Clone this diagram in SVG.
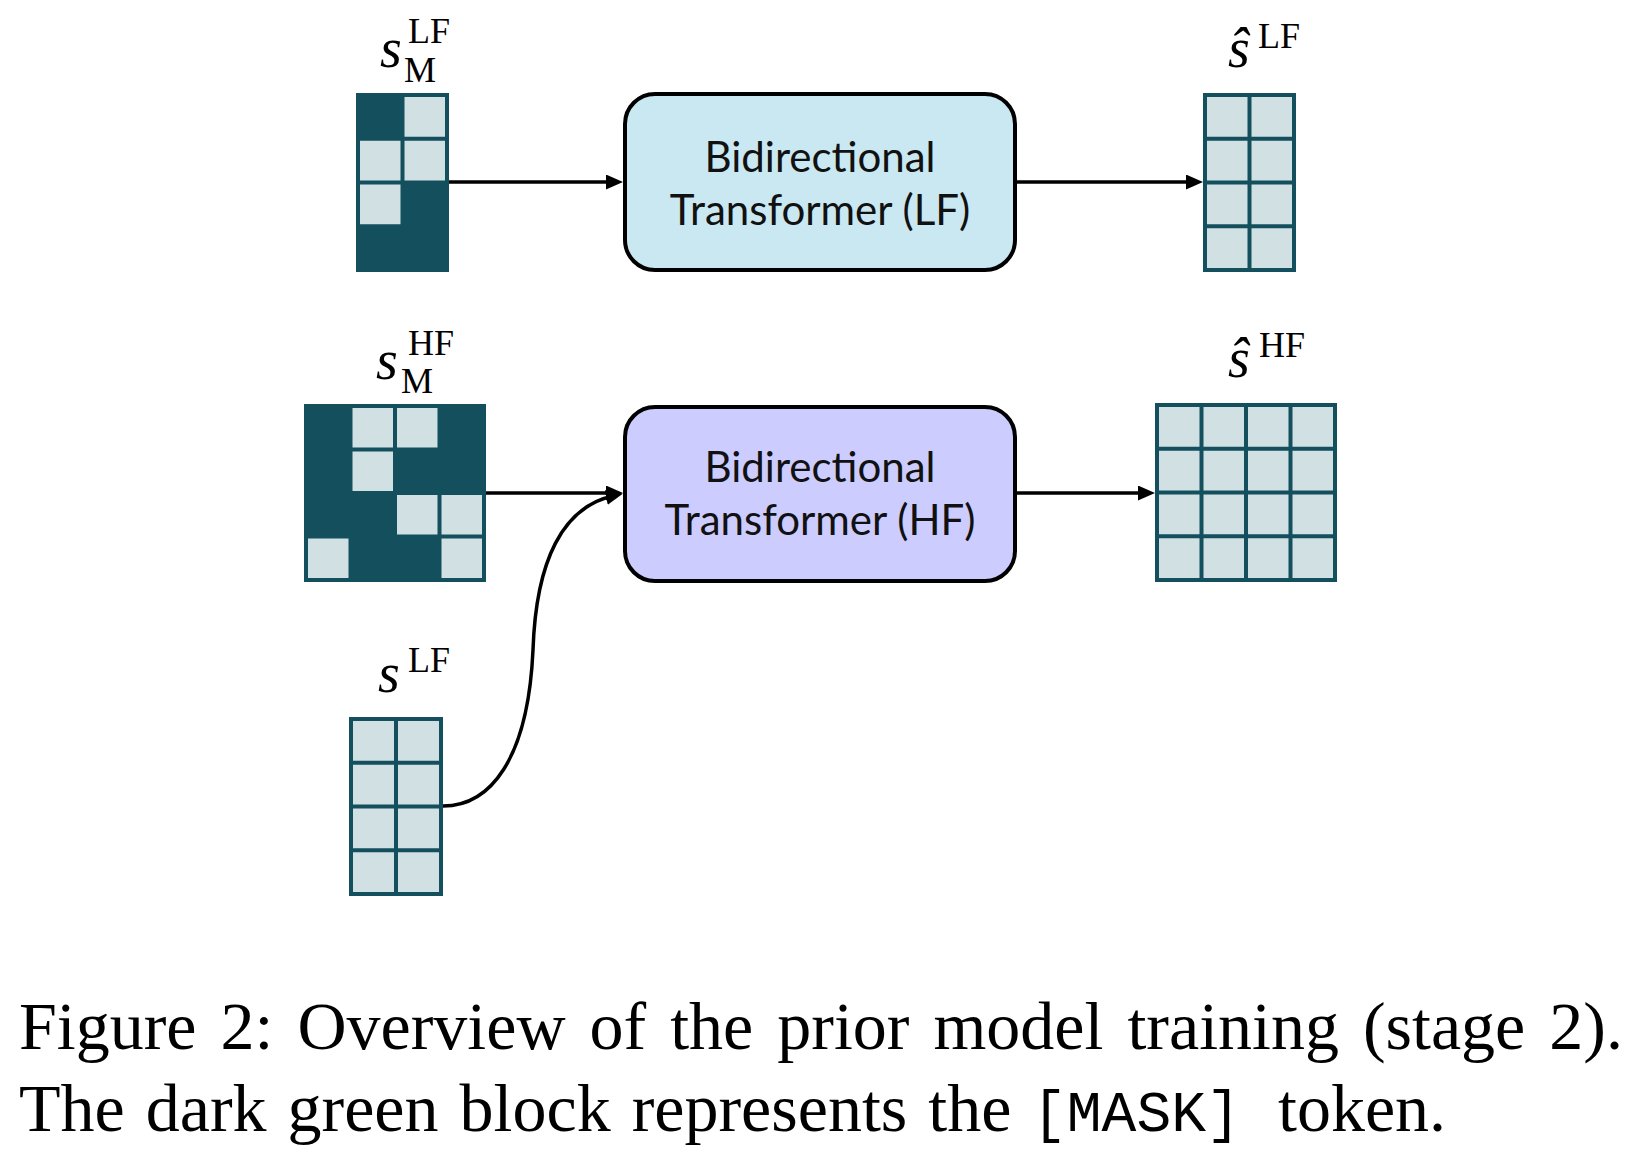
<svg xmlns="http://www.w3.org/2000/svg" width="1632" height="1163" viewBox="0 0 1632 1163">
<style>
.dk{fill:#134F5C}
.lt{fill:#D0E0E3}
.box{stroke:#000;stroke-width:4}
.lbl{font-family:"Lato","Liberation Sans",sans-serif;font-size:42px;fill:#111;text-anchor:middle}
.mi{font-family:"Liberation Serif",serif;font-style:italic;font-size:56px;fill:#000}
.mr{font-family:"Liberation Serif",serif;font-style:normal;font-size:36px;fill:#000}
.cap{font-family:"Liberation Serif",serif;font-size:68px;fill:#000}
.mono{font-family:"Liberation Mono",monospace;font-size:58px;fill:#000}
.conn{stroke:#000;stroke-width:3.5;fill:none;marker-end:url(#ah)}
</style>
<defs>
<marker id="ah" viewBox="0 0 17 15" markerWidth="17" markerHeight="15" refX="7" refY="7.5" orient="auto" markerUnits="userSpaceOnUse">
<path d="M0,0 L17,7.5 L0,15 z" fill="#000"/>
</marker>
</defs>
<rect width="1632" height="1163" fill="#fff"/>

<g id="s_lf_masked">
<rect class="dk" x="356" y="93" width="93" height="179"/>
<rect class="lt" x="404.5" y="97" width="40.5" height="39.75"/>
<rect class="lt" x="360" y="140.75" width="40.5" height="39.75"/>
<rect class="lt" x="404.5" y="140.75" width="40.5" height="39.75"/>
<rect class="lt" x="360" y="184.5" width="40.5" height="39.75"/>
<text class="mi" x="380" y="67">s</text>
<text class="mr" x="408" y="43">LF</text>
<text class="mr" x="404" y="82">M</text>
</g>

<g id="transformer_lf">
<rect class="box" x="625" y="94" width="390" height="176" rx="30" fill="#C9E8F2"/>
<text class="lbl" x="820" y="172">Bidirectional</text>
<text class="lbl" x="820" y="225">Transformer (LF)</text>
</g>

<g id="s_hat_lf">
<rect class="dk" x="1203" y="93" width="93" height="179"/>
<rect class="lt" x="1207" y="97" width="40.5" height="39.75"/>
<rect class="lt" x="1251.5" y="97" width="40.5" height="39.75"/>
<rect class="lt" x="1207" y="140.75" width="40.5" height="39.75"/>
<rect class="lt" x="1251.5" y="140.75" width="40.5" height="39.75"/>
<rect class="lt" x="1207" y="184.5" width="40.5" height="39.75"/>
<rect class="lt" x="1251.5" y="184.5" width="40.5" height="39.75"/>
<rect class="lt" x="1207" y="228.25" width="40.5" height="39.75"/>
<rect class="lt" x="1251.5" y="228.25" width="40.5" height="39.75"/>
<text class="mi" x="1228" y="67">ŝ<tspan class="mr" x="1258" y="48">LF</tspan></text>
</g>

<g id="s_hf_masked">
<rect class="dk" x="304" y="404" width="182" height="178"/>
<rect class="lt" x="352.5" y="408" width="40.5" height="39.5"/>
<rect class="lt" x="397" y="408" width="40.5" height="39.5"/>
<rect class="lt" x="352.5" y="451.5" width="40.5" height="39.5"/>
<rect class="lt" x="397" y="495" width="40.5" height="39.5"/>
<rect class="lt" x="441.5" y="495" width="40.5" height="39.5"/>
<rect class="lt" x="308" y="538.5" width="40.5" height="39.5"/>
<rect class="lt" x="441.5" y="538.5" width="40.5" height="39.5"/>
<text class="mi" x="376" y="379">s</text>
<text class="mr" x="408" y="355">HF</text>
<text class="mr" x="401" y="393">M</text>
</g>

<g id="transformer_hf">
<rect class="box" x="625" y="407" width="390" height="174" rx="30" fill="#CCCCFF"/>
<text class="lbl" x="820" y="482">Bidirectional</text>
<text class="lbl" x="820" y="535">Transformer (HF)</text>
</g>

<g id="s_hat_hf">
<rect class="dk" x="1155" y="403" width="182" height="179"/>
<g class="lt">
<rect x="1159" y="407" width="40.5" height="39.75"/>
<rect x="1203.5" y="407" width="40.5" height="39.75"/>
<rect x="1248" y="407" width="40.5" height="39.75"/>
<rect x="1292.5" y="407" width="40.5" height="39.75"/>
<rect x="1159" y="450.75" width="40.5" height="39.75"/>
<rect x="1203.5" y="450.75" width="40.5" height="39.75"/>
<rect x="1248" y="450.75" width="40.5" height="39.75"/>
<rect x="1292.5" y="450.75" width="40.5" height="39.75"/>
<rect x="1159" y="494.5" width="40.5" height="39.75"/>
<rect x="1203.5" y="494.5" width="40.5" height="39.75"/>
<rect x="1248" y="494.5" width="40.5" height="39.75"/>
<rect x="1292.5" y="494.5" width="40.5" height="39.75"/>
<rect x="1159" y="538.25" width="40.5" height="39.75"/>
<rect x="1203.5" y="538.25" width="40.5" height="39.75"/>
<rect x="1248" y="538.25" width="40.5" height="39.75"/>
<rect x="1292.5" y="538.25" width="40.5" height="39.75"/>
</g>
<text class="mi" x="1228" y="377">ŝ<tspan class="mr" x="1259" y="357">HF</tspan></text>
</g>

<g id="s_lf">
<rect class="dk" x="349" y="717" width="94" height="179"/>
<rect class="lt" x="353" y="721" width="41" height="39.75"/>
<rect class="lt" x="398" y="721" width="41" height="39.75"/>
<rect class="lt" x="353" y="764.75" width="41" height="39.75"/>
<rect class="lt" x="398" y="764.75" width="41" height="39.75"/>
<rect class="lt" x="353" y="808.5" width="41" height="39.75"/>
<rect class="lt" x="398" y="808.5" width="41" height="39.75"/>
<rect class="lt" x="353" y="852.25" width="41" height="39.75"/>
<rect class="lt" x="398" y="852.25" width="41" height="39.75"/>
<text class="mi" x="378" y="692">s<tspan class="mr" x="408" y="672">LF</tspan></text>
</g>

<g id="connectors">
<path class="conn" d="M449,182 L613,182"/>
<path class="conn" d="M1017,182 L1193,182"/>
<path class="conn" d="M486,493 L613,493"/>
<path class="conn" d="M1017,493 L1145,493"/>
<path class="conn" d="M443,806 C490,806 528,760 533,650 C536,560 563,507 613,496"/>
</g>

<g id="caption">
<text class="cap" x="19" y="1049" word-spacing="7">Figure 2: Overview of the prior model training (stage 2).</text>
<text class="cap" x="19" y="1131" word-spacing="4">The dark green block represents the</text>
<text class="mono" x="1032" y="1131">[MASK]</text>
<text class="cap" x="1278" y="1131">token.</text>
</g>
</svg>
